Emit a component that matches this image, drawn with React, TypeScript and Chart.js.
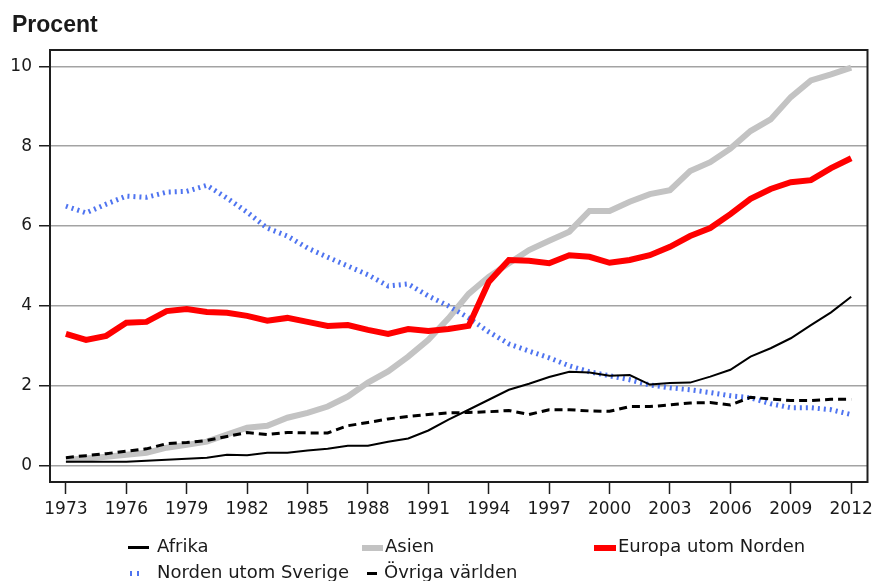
import { useEffect, useRef } from "react";
import { Chart, registerables } from "chart.js";

Chart.register(...registerables);

const years = [
  1973, 1974, 1975, 1976, 1977, 1978, 1979, 1980, 1981, 1982,
  1983, 1984, 1985, 1986, 1987, 1988, 1989, 1990, 1991, 1992,
  1993, 1994, 1995, 1996, 1997, 1998, 1999, 2000, 2001, 2002,
  2003, 2004, 2005, 2006, 2007, 2008, 2009, 2010, 2011, 2012,
];
const xTickYears = [1973, 1976, 1979, 1982, 1985, 1988, 1991, 1994, 1997, 2000, 2003, 2006, 2009, 2012];
const yTickValues = [0, 2, 4, 6, 8, 10];

const afrika = [
  0.1, 0.1, 0.1, 0.1, 0.12, 0.15, 0.17, 0.2, 0.27, 0.26,
  0.32, 0.32, 0.38, 0.42, 0.5, 0.5, 0.6, 0.68, 0.88, 1.15,
  1.4, 1.65, 1.9, 2.05, 2.22, 2.35, 2.33, 2.25, 2.27, 2.03,
  2.07, 2.08, 2.23, 2.4, 2.73, 2.94, 3.19, 3.52, 3.84, 4.23,
];
const asien = [
  0.15, 0.18, 0.22, 0.27, 0.32, 0.45, 0.52, 0.6, 0.78, 0.95,
  1.0, 1.2, 1.32, 1.48, 1.73, 2.08, 2.36, 2.73, 3.15, 3.69,
  4.3, 4.73, 5.07, 5.4, 5.63, 5.86, 6.38, 6.38, 6.61, 6.8,
  6.9, 7.38, 7.6, 7.94, 8.38, 8.67, 9.23, 9.65, 9.8, 9.97,
];
const europa = [
  3.3, 3.15, 3.25, 3.58, 3.6, 3.87, 3.92, 3.85, 3.83, 3.75,
  3.63, 3.7, 3.6, 3.5, 3.52, 3.4, 3.3, 3.42, 3.37, 3.42,
  3.5, 4.6, 5.15, 5.13, 5.07, 5.27, 5.23, 5.08, 5.15, 5.27,
  5.48, 5.75, 5.95, 6.3, 6.68, 6.93, 7.1, 7.15, 7.45, 7.7,
];
const norden = [
  6.5, 6.33, 6.55, 6.75, 6.72, 6.85, 6.87, 7.02, 6.7, 6.35,
  5.95, 5.75, 5.45, 5.22, 5.0, 4.78, 4.5, 4.55, 4.25, 4.0,
  3.7, 3.35, 3.05, 2.87, 2.7, 2.5, 2.35, 2.25, 2.15, 2.02,
  1.95, 1.9, 1.83, 1.75, 1.7, 1.55, 1.45, 1.45, 1.4, 1.28,
];
const ovriga = [
  0.2, 0.25, 0.3, 0.36, 0.42, 0.55, 0.58, 0.63, 0.73, 0.83,
  0.78, 0.83, 0.82, 0.82, 1.0, 1.08, 1.17, 1.23, 1.28, 1.32,
  1.33, 1.35, 1.38, 1.28, 1.4, 1.4, 1.37, 1.36, 1.48, 1.48,
  1.52, 1.57, 1.58, 1.52, 1.71, 1.67, 1.63, 1.63, 1.66, 1.66,
];

const labelAfrika = "Afrika";
const labelAsien = "Asien";
const labelEuropa = "Europa utom Norden";
const labelNorden = "Norden utom Sverige";
const labelOvriga = "Övriga världen";

const TEXT = "#1a1a1a";
const TICK_FONT = "'DejaVu Sans', sans-serif";

const toPoints = (vals: number[]) => years.map((y, i) => ({ x: y, y: vals[i] }));

const framePlugin = {
  id: "frame",
  afterDatasetsDraw(chart: any) {
    const { ctx, chartArea } = chart;
    ctx.save();
    ctx.strokeStyle = "#1e1e1e";
    ctx.lineWidth = 2;
    ctx.strokeRect(chartArea.left, chartArea.top, chartArea.right - chartArea.left, chartArea.bottom - chartArea.top);
    ctx.restore();
  },
};

export default function App() {
  const canvasRef = useRef<HTMLCanvasElement | null>(null);

  useEffect(() => {
    const canvas = canvasRef.current;
    if (!canvas) return;
    const chart = new Chart(canvas, {
      type: "line",
      data: {
        datasets: [
          {
            label: labelAfrika,
            data: toPoints(afrika),
            borderColor: "#000000",
            borderWidth: 2,
            pointRadius: 0,
            tension: 0,
            order: 1,
          },
          {
            label: labelAsien,
            data: toPoints(asien),
            borderColor: "#c3c3c3",
            borderWidth: 6,
            pointRadius: 0,
            tension: 0,
            order: 4,
          },
          {
            label: labelEuropa,
            data: toPoints(europa),
            borderColor: "#ff0000",
            borderWidth: 6,
            pointRadius: 0,
            tension: 0,
            order: 0,
          },
          {
            label: labelNorden,
            data: toPoints(norden),
            borderColor: "#4f74f0",
            borderWidth: 5,
            borderDash: [2, 4],
            borderCapStyle: "butt",
            pointRadius: 0,
            tension: 0,
            order: 3,
          },
          {
            label: labelOvriga,
            data: toPoints(ovriga),
            borderColor: "#000000",
            borderWidth: 3,
            borderDash: [8, 5],
            borderCapStyle: "butt",
            pointRadius: 0,
            tension: 0,
            order: 2,
          },
        ],
      },
      options: {
        animation: false,
        responsive: false,
        maintainAspectRatio: false,
        layout: { padding: { left: 0, top: 50, right: 9, bottom: 0 } },
        plugins: {
          legend: { display: false },
          tooltip: { enabled: false },
          title: { display: false },
        },
        scales: {
          x: {
            type: "linear",
            min: 1972.21,
            max: 2012.81,
            afterBuildTicks: (scale: any) => {
              scale.ticks = xTickYears.map((v) => ({ value: v }));
            },
            afterFit: (scale: any) => {
              scale.height = 99;
            },
            ticks: {
              autoSkip: false,
              maxRotation: 0,
              color: TEXT,
              padding: 5,
              font: { family: TICK_FONT, size: 17 },
              callback: (v: any) => String(v),
            },
            grid: {
              drawOnChartArea: false,
              drawTicks: true,
              tickLength: 12,
              tickColor: "#1e1e1e",
              tickWidth: 1.5,
              color: "#1e1e1e",
            },
            border: { display: false },
          },
          y: {
            type: "linear",
            min: -0.41,
            max: 10.41,
            afterBuildTicks: (scale: any) => {
              scale.ticks = yTickValues.map((v) => ({ value: v }));
            },
            afterFit: (scale: any) => {
              scale.width = 50;
            },
            ticks: {
              color: TEXT,
              padding: 7,
              font: { family: TICK_FONT, size: 17 },
              callback: (v: any) => String(v),
            },
            grid: {
              color: "#a3a3a3",
              lineWidth: 1.5,
              drawTicks: true,
              tickLength: 11,
              tickColor: "#1e1e1e",
              tickWidth: 1.5,
            },
            border: { display: false },
          },
        },
      },
      plugins: [framePlugin],
    } as any);
    return () => chart.destroy();
  }, []);

  const legendText: React.CSSProperties = {
    position: "absolute",
    fontFamily: TICK_FONT,
    fontSize: 18,
    lineHeight: "18px",
    color: TEXT,
    whiteSpace: "nowrap",
  };

  return (
    <div style={{ position: "absolute", left: 0, top: 0, width: 878, height: 581, background: "#fff", overflow: "hidden" }}>
      <canvas ref={canvasRef} width={878} height={581} style={{ position: "absolute", left: 0, top: 0, width: 878, height: 581 }} />
      <div
        style={{
          position: "absolute",
          left: 12,
          top: 13,
          fontFamily: "'Liberation Sans', Arial, sans-serif",
          fontWeight: "bold",
          fontSize: 23,
          lineHeight: "23px",
          color: TEXT,
        }}
      >
        Procent
      </div>

      {/* Legend row 1 */}
      <div style={{ position: "absolute", left: 128, top: 546, width: 21, height: 3, background: "#000" }} />
      <div style={{ ...legendText, left: 157, top: 537 }}>{labelAfrika}</div>
      <div style={{ position: "absolute", left: 362, top: 545, width: 21, height: 6, background: "#c3c3c3" }} />
      <div style={{ ...legendText, left: 385, top: 537 }}>{labelAsien}</div>
      <div style={{ position: "absolute", left: 594, top: 545, width: 22, height: 6, background: "#ff0000" }} />
      <div style={{ ...legendText, left: 618, top: 537 }}>{labelEuropa}</div>

      {/* Legend row 2 */}
      <div style={{ position: "absolute", left: 130, top: 571, width: 2, height: 5, background: "#4f74f0" }} />
      <div style={{ position: "absolute", left: 137, top: 571, width: 2, height: 5, background: "#4f74f0" }} />
      <div style={{ ...legendText, left: 157, top: 563 }}>{labelNorden}</div>
      <div style={{ position: "absolute", left: 367, top: 572, width: 10, height: 3, background: "#000" }} />
      <div style={{ ...legendText, left: 384, top: 563 }}>{labelOvriga}</div>
    </div>
  );
}
